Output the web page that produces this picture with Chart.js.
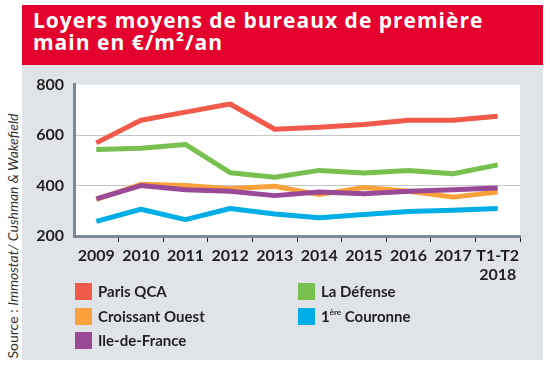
<!DOCTYPE html>
<html>
<head>
<meta charset="utf-8">
<script src="https://cdn.jsdelivr.net/npm/chart.js@4"></script>
<style>
  body { margin: 0; width: 550px; height: 370px; background: #fff; position: relative; overflow: hidden; font-family: Lato, "Noto Sans", sans-serif; }
  #header { position: absolute; left: 22px; top: 5px; width: 521px; height: 60px; background: #e4032e; }
  #title { position: absolute; left: 11px; top: 4px; color: #fff; font: bold 21px "Open Sans", Lato, sans-serif; letter-spacing: 1px; line-height: 22px; }
  #panel { position: absolute; left: 22px; top: 65px; width: 521px; height: 295px; background: #e0e4e8; }
  #chart { position: absolute; left: 22px; top: 65px; }
  #source { position: absolute; width: 260px; left: -117px; top: 228px; text-align: center; transform: rotate(-90deg); font: 14px Lato, sans-serif; color: #333; white-space: nowrap; line-height: 16px; }
  .leg { position: absolute; font: bold 15px Lato, sans-serif; color: #231f20; white-space: nowrap; line-height: 17px; }
  .leg span.box { display: inline-block; width: 17px; height: 17px; vertical-align: top; margin-right: 6px; }
  .leg sup { font-size: 8px; vertical-align: top; line-height: 8px; }
</style>
</head>
<body>
<div id="header"><div id="title">Loyers moyens de bureaux de première<br>main en €/m²/an</div></div>
<div id="panel"></div>
<canvas id="chart" width="521" height="220"></canvas>
<div id="source">Source : <i>Immostat/ Cushman &amp; Wakefield</i></div>
<div id="legend"></div>
<script>
// données
const annees = ['2009', '2010', '2011', '2012', '2013', '2014', '2015', '2016', '2017', ['T1-T2', '2018']];
const parisQCA = [569, 659, 691, 723, 623, 631, 642, 659, 659, 675];
const laDefense = [543, 548, 563, 451, 433, 460, 450, 460, 447, 482];
const croissantOuest = [345, 405, 400, 387, 397, 364, 392, 377, 354, 374];
const premiereCouronne = [258, 306, 265, 309, 287, 272, 285, 297, 302, 309];
const ileDeFrance = [347, 400, 383, 377, 360, 374, 367, 377, 383, 390];
const yTicks = [200, 400, 600, 800];

// ordre = ordre de dessin (plus petit = au dessus)
const series = [
    { nom: 'Paris QCA', data: parisQCA, couleur: '#f15a4a', ordre: 0 },
    { nom: 'La Défense', data: laDefense, couleur: '#78c04f', ordre: 0 },
    { nom: 'Croissant Ouest', data: croissantOuest, couleur: '#f9a13a', ordre: 0 },
    { nom: '1ère Couronne', data: premiereCouronne, couleur: '#00aee6', ordre: 0 },
    { nom: 'Ile-de-France', data: ileDeFrance, couleur: '#9a4997', ordre: -1 }
];

// legende en html, 2 colonnes
const legend = document.getElementById('legend');
series.forEach(function(s, i) {
    const d = document.createElement('div');
    d.className = 'leg';
    d.style.left = (75 + (i % 2) * 223) + 'px';
    d.style.top = (283 + Math.floor(i / 2) * 24.5) + 'px';
    const txt = s.nom.replace('1ère', '1<sup>ère</sup>');
    d.innerHTML = '<span class="box" style="background:' + s.couleur + '"></span>' + txt;
    legend.appendChild(d);
});

// fond blanc de la zone du graphique
const fondBlanc = {
    id: 'fondBlanc',
    beforeDraw: function(chart) {
        const a = chart.chartArea;
        chart.ctx.save();
        chart.ctx.fillStyle = '#fff';
        chart.ctx.fillRect(a.left, a.top, a.right - a.left, a.bottom - a.top);
        chart.ctx.restore();
    }
};

const ctx = document.getElementById('chart').getContext('2d');
new Chart(ctx, {
    type: 'line',
    data: {
        labels: annees,
        datasets: series.map(function(s) {
            return {
                label: s.nom,
                data: s.data,
                order: s.ordre,
                borderColor: s.couleur,
                backgroundColor: s.couleur,
                borderWidth: 5,
                pointRadius: 0,
                tension: 0,
                borderJoinStyle: 'round'
            };
        })
    },
    options: {
        responsive: false,
        animation: false,
        layout: { padding: { top: 18, right: 23, left: 0, bottom: 0 } },
        plugins: { legend: { display: false }, tooltip: { enabled: false } },
        scales: {
            x: {
                offset: true,
                afterFit: function(s) { s.height = 49; },
                grid: {
                    offset: true,
                    drawOnChartArea: false,
                    tickLength: 6,
                    color: function(c) { return (c.index === 0 || c.index === annees.length) ? 'rgba(0,0,0,0)' : '#231f20'; }
                },
                border: { color: '#7b8a94', width: 3 },
                ticks: { color: '#231f20', padding: 5, maxRotation: 0, autoSkip: false, font: { family: 'Lato', weight: 'bold', size: 16, lineHeight: 1.15 } }
            },
            y: {
                min: 200,
                max: 800,
                afterFit: function(s) { s.width = 52; },
                afterBuildTicks: function(s) { s.ticks = yTicks.map(function(v) { return { value: v }; }); },
                grid: {
                    drawTicks: false,
                    color: function(c) { return (c.tick && (c.tick.value === 400 || c.tick.value === 600)) ? '#c3c5c7' : 'rgba(0,0,0,0)'; },
                    lineWidth: 1
                },
                border: { color: '#7b8a94', width: 3, dash: [] },
                ticks: { color: '#231f20', padding: 10, font: { family: 'Lato', weight: 'bold', size: 16 } }
            }
        }
    },
    plugins: [fondBlanc]
});
</script>
</body>
</html>
